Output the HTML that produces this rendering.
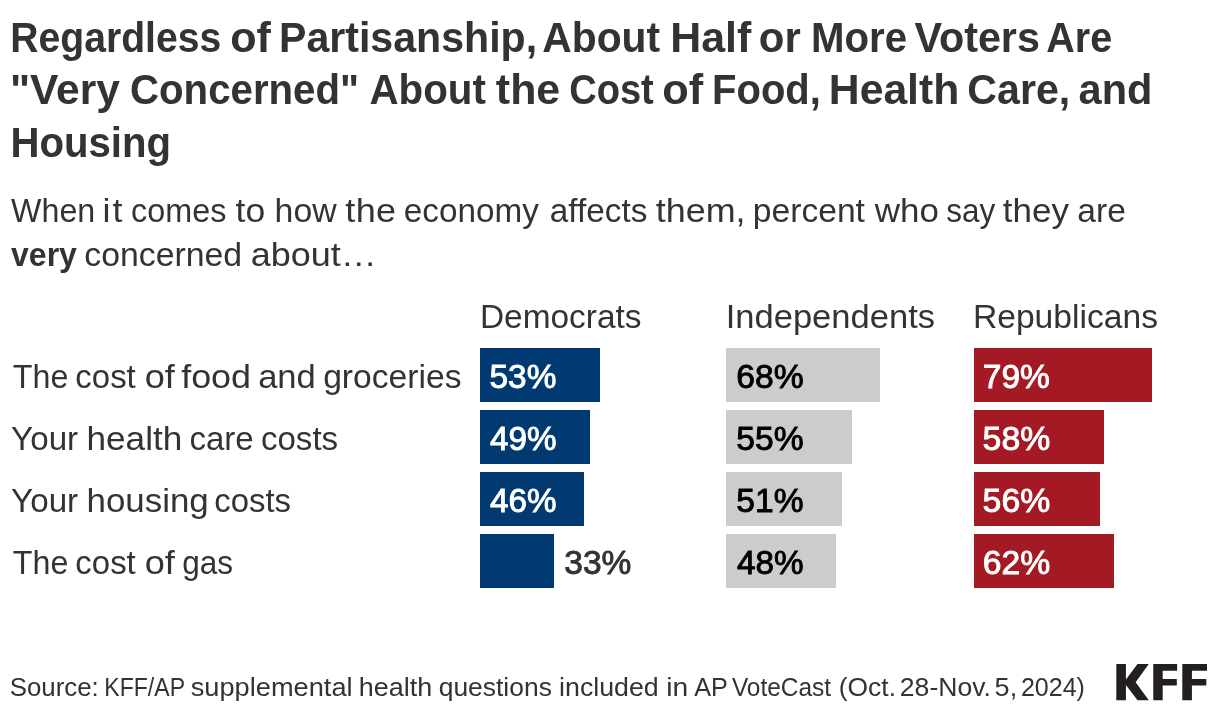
<!DOCTYPE html>
<html><head><meta charset="utf-8"><title>KFF chart</title>
<style>
html,body{margin:0;padding:0;background:#fff;}
body{width:1220px;height:714px;position:relative;overflow:hidden;font-family:"Liberation Sans",sans-serif;}
#txt{position:absolute;left:0;top:0;width:1220px;height:714px;will-change:transform;}
.t{position:absolute;left:0;white-space:nowrap;line-height:1;transform-origin:0 0;}
.b{position:absolute;height:54px;}
</style></head><body>
<div class="b" style="left:480px;top:348px;width:120px;background:#003a70"></div>
<div class="b" style="left:480px;top:410px;width:110px;background:#003a70"></div>
<div class="b" style="left:480px;top:472px;width:104px;background:#003a70"></div>
<div class="b" style="left:480px;top:534px;width:74px;background:#003a70"></div>
<div class="b" style="left:726px;top:348px;width:154px;background:#cccccc"></div>
<div class="b" style="left:726px;top:410px;width:126px;background:#cccccc"></div>
<div class="b" style="left:726px;top:472px;width:116px;background:#cccccc"></div>
<div class="b" style="left:726px;top:534px;width:110px;background:#cccccc"></div>
<div class="b" style="left:974px;top:348px;width:178px;background:#a41a24"></div>
<div class="b" style="left:974px;top:410px;width:130px;background:#a41a24"></div>
<div class="b" style="left:974px;top:472px;width:126px;background:#a41a24"></div>
<div class="b" style="left:974px;top:534px;width:140px;background:#a41a24"></div>
<div id="txt">
<div class="t" id="t1_0" style="top:17.00px;font-size:42px;font-weight:700;color:#333;transform:translateX(10.24px) scaleX(0.9321)">Regardless</div>
<div class="t" id="t1_1" style="top:17.00px;font-size:42px;font-weight:700;color:#333;transform:translateX(230.29px) scaleX(1.0261)">of</div>
<div class="t" id="t1_2" style="top:17.00px;font-size:42px;font-weight:700;color:#333;transform:translateX(279.00px) scaleX(0.9786)">Partisanship,</div>
<div class="t" id="t1_3" style="top:17.00px;font-size:42px;font-weight:700;color:#333;transform:translateX(542.29px) scaleX(0.9715)">About</div>
<div class="t" id="t1_4" style="top:17.00px;font-size:42px;font-weight:700;color:#333;transform:translateX(670.25px) scaleX(1.0206)">Half</div>
<div class="t" id="t1_5" style="top:17.00px;font-size:42px;font-weight:700;color:#333;transform:translateX(758.86px) scaleX(0.9971)">or</div>
<div class="t" id="t1_6" style="top:17.00px;font-size:42px;font-weight:700;color:#333;transform:translateX(810.95px) scaleX(0.9574)">More</div>
<div class="t" id="t1_7" style="top:17.00px;font-size:42px;font-weight:700;color:#333;transform:translateX(914.44px) scaleX(0.9831)">Voters</div>
<div class="t" id="t1_8" style="top:17.00px;font-size:42px;font-weight:700;color:#333;transform:translateX(1046.26px) scaleX(0.9414)">Are</div>
<div class="t" id="t2_0" style="top:69.00px;font-size:42px;font-weight:700;color:#333;transform:translateX(9.96px) scaleX(1.0119)">&quot;Very</div>
<div class="t" id="t2_1" style="top:69.00px;font-size:42px;font-weight:700;color:#333;transform:translateX(130.00px) scaleX(0.9574)">Concerned&quot;</div>
<div class="t" id="t2_2" style="top:69.00px;font-size:42px;font-weight:700;color:#333;transform:translateX(369.41px) scaleX(0.9604)">About</div>
<div class="t" id="t2_3" style="top:69.00px;font-size:42px;font-weight:700;color:#333;transform:translateX(495.85px) scaleX(1.0217)">the</div>
<div class="t" id="t2_4" style="top:69.00px;font-size:42px;font-weight:700;color:#333;transform:translateX(569.21px) scaleX(0.9062)">Cost</div>
<div class="t" id="t2_5" style="top:69.00px;font-size:42px;font-weight:700;color:#333;transform:translateX(662.35px) scaleX(1.0319)">of</div>
<div class="t" id="t2_6" style="top:69.00px;font-size:42px;font-weight:700;color:#333;transform:translateX(712.02px) scaleX(0.9523)">Food,</div>
<div class="t" id="t2_7" style="top:69.00px;font-size:42px;font-weight:700;color:#333;transform:translateX(828.81px) scaleX(1.0164)">Health</div>
<div class="t" id="t2_8" style="top:69.00px;font-size:42px;font-weight:700;color:#333;transform:translateX(967.34px) scaleX(0.9797)">Care,</div>
<div class="t" id="t2_9" style="top:69.00px;font-size:42px;font-weight:700;color:#333;transform:translateX(1078.61px) scaleX(0.9893)">and</div>
<div class="t" id="t3_0" style="top:122.00px;font-size:42px;font-weight:700;color:#333;transform:translateX(10.45px) scaleX(0.9558)">Housing</div>
<div class="t" id="s1_0" style="top:193.00px;font-size:34px;font-weight:400;color:#333;transform:translateX(11.12px) scaleX(0.9475)">When</div>
<div class="t" id="s1_1" style="top:193.00px;font-size:34px;font-weight:400;color:#333;letter-spacing:1.93px;transform:translateX(102.55px) scaleX(1.0542)">it</div>
<div class="t" id="s1_2" style="top:193.00px;font-size:34px;font-weight:400;color:#333;transform:translateX(131.03px) scaleX(0.9516)">comes</div>
<div class="t" id="s1_3" style="top:193.00px;font-size:34px;font-weight:400;color:#333;transform:translateX(235.54px) scaleX(1.0448)">to</div>
<div class="t" id="s1_4" style="top:193.00px;font-size:34px;font-weight:400;color:#333;transform:translateX(274.56px) scaleX(0.9956)">how</div>
<div class="t" id="s1_5" style="top:193.00px;font-size:34px;font-weight:400;color:#333;letter-spacing:0.31px;transform:translateX(345.33px) scaleX(1.0607)">the</div>
<div class="t" id="s1_6" style="top:193.00px;font-size:34px;font-weight:400;color:#333;transform:translateX(403.82px) scaleX(0.9785)">economy</div>
<div class="t" id="s1_7" style="top:193.00px;font-size:34px;font-weight:400;color:#333;transform:translateX(549.84px) scaleX(0.9796)">affects</div>
<div class="t" id="s1_8" style="top:193.00px;font-size:34px;font-weight:400;color:#333;transform:translateX(655.79px) scaleX(1.0559)">them,</div>
<div class="t" id="s1_9" style="top:193.00px;font-size:34px;font-weight:400;color:#333;transform:translateX(752.78px) scaleX(0.9890)">percent</div>
<div class="t" id="s1_10" style="top:193.00px;font-size:34px;font-weight:400;color:#333;transform:translateX(874.79px) scaleX(1.0286)">who</div>
<div class="t" id="s1_11" style="top:193.00px;font-size:34px;font-weight:400;color:#333;transform:translateX(946.26px) scaleX(0.9244)">say</div>
<div class="t" id="s1_12" style="top:193.00px;font-size:34px;font-weight:400;color:#333;transform:translateX(1002.84px) scaleX(1.0288)">they</div>
<div class="t" id="s1_13" style="top:193.00px;font-size:34px;font-weight:400;color:#333;transform:translateX(1077.31px) scaleX(0.9876)">are</div>
<div class="t" id="s2_0" style="top:237.00px;font-size:34px;font-weight:700;color:#333;transform:translateX(11.09px) scaleX(0.9400)">very</div>
<div class="t" id="s2_1" style="top:237.00px;font-size:34px;font-weight:400;color:#333;transform:translateX(84.27px) scaleX(0.9939)">concerned</div>
<div class="t" id="s2_2" style="top:237.00px;font-size:34px;font-weight:400;color:#333;transform:translateX(250.74px) scaleX(1.0589)">about…</div>
<div class="t" id="h1_0" style="top:299.00px;font-size:34px;font-weight:400;color:#333;transform:translateX(479.96px) scaleX(0.9828)">Democrats</div>
<div class="t" id="h2_0" style="top:299.00px;font-size:34px;font-weight:400;color:#333;transform:translateX(725.73px) scaleX(1.0154)">Independents</div>
<div class="t" id="h3_0" style="top:299.00px;font-size:34px;font-weight:400;color:#333;transform:translateX(972.91px) scaleX(0.9894)">Republicans</div>
<div class="t" id="r1_0" style="top:359.00px;font-size:34px;font-weight:400;color:#333;transform:translateX(12.82px) scaleX(0.9475)">The</div>
<div class="t" id="r1_1" style="top:359.00px;font-size:34px;font-weight:400;color:#333;transform:translateX(75.37px) scaleX(0.9680)">cost</div>
<div class="t" id="r1_2" style="top:359.00px;font-size:34px;font-weight:400;color:#333;letter-spacing:0.08px;transform:translateX(144.65px) scaleX(1.0643)">of</div>
<div class="t" id="r1_3" style="top:359.00px;font-size:34px;font-weight:400;color:#333;transform:translateX(181.19px) scaleX(1.0556)">food</div>
<div class="t" id="r1_4" style="top:359.00px;font-size:34px;font-weight:400;color:#333;transform:translateX(258.14px) scaleX(1.0166)">and</div>
<div class="t" id="r1_5" style="top:359.00px;font-size:34px;font-weight:400;color:#333;transform:translateX(323.14px) scaleX(0.9895)">groceries</div>
<div class="t" id="r2_0" style="top:421.00px;font-size:34px;font-weight:400;color:#333;transform:translateX(11.10px) scaleX(0.9759)">Your</div>
<div class="t" id="r2_1" style="top:421.00px;font-size:34px;font-weight:400;color:#333;transform:translateX(86.47px) scaleX(1.0340)">health</div>
<div class="t" id="r2_2" style="top:421.00px;font-size:34px;font-weight:400;color:#333;transform:translateX(189.38px) scaleX(0.9703)">care</div>
<div class="t" id="r2_3" style="top:421.00px;font-size:34px;font-weight:400;color:#333;transform:translateX(260.93px) scaleX(0.9729)">costs</div>
<div class="t" id="r3_0" style="top:483.00px;font-size:34px;font-weight:400;color:#333;transform:translateX(11.10px) scaleX(0.9759)">Your</div>
<div class="t" id="r3_1" style="top:483.00px;font-size:34px;font-weight:400;color:#333;transform:translateX(86.54px) scaleX(1.0262)">housing</div>
<div class="t" id="r3_2" style="top:483.00px;font-size:34px;font-weight:400;color:#333;transform:translateX(214.18px) scaleX(0.9682)">costs</div>
<div class="t" id="r4_0" style="top:545.00px;font-size:34px;font-weight:400;color:#333;transform:translateX(12.82px) scaleX(0.9475)">The</div>
<div class="t" id="r4_1" style="top:545.00px;font-size:34px;font-weight:400;color:#333;transform:translateX(75.37px) scaleX(0.9680)">cost</div>
<div class="t" id="r4_2" style="top:545.00px;font-size:34px;font-weight:400;color:#333;letter-spacing:0.08px;transform:translateX(144.65px) scaleX(1.0643)">of</div>
<div class="t" id="r4_3" style="top:545.00px;font-size:34px;font-weight:400;color:#333;transform:translateX(182.25px) scaleX(0.9281)">gas</div>
<div class="t" id="f1_0" style="top:674.40px;font-size:26.6px;font-weight:400;color:#333;transform:translateX(9.64px) scaleX(0.9721)">Source:</div>
<div class="t" id="f1_1" style="top:674.40px;font-size:26.6px;font-weight:400;color:#333;transform:translateX(104.36px) scaleX(0.8663)">KFF/AP</div>
<div class="t" id="f1_2" style="top:674.40px;font-size:26.6px;font-weight:400;color:#333;transform:translateX(190.76px) scaleX(1.0229)">supplemental</div>
<div class="t" id="f1_3" style="top:674.40px;font-size:26.6px;font-weight:400;color:#333;transform:translateX(358.77px) scaleX(1.0128)">health</div>
<div class="t" id="f1_4" style="top:674.40px;font-size:26.6px;font-weight:400;color:#333;transform:translateX(438.70px) scaleX(0.9939)">questions</div>
<div class="t" id="f1_5" style="top:674.40px;font-size:26.6px;font-weight:400;color:#333;transform:translateX(559.09px) scaleX(1.0055)">included</div>
<div class="t" id="f1_6" style="top:674.40px;font-size:26.6px;font-weight:400;color:#333;transform:translateX(666.18px) scaleX(1.0601)">in</div>
<div class="t" id="f1_7" style="top:674.40px;font-size:26.6px;font-weight:400;color:#333;transform:translateX(694.29px) scaleX(0.9473)">AP</div>
<div class="t" id="f1_8" style="top:674.40px;font-size:26.6px;font-weight:400;color:#333;transform:translateX(731.91px) scaleX(0.9195)">VoteCast</div>
<div class="t" id="f1_9" style="top:674.40px;font-size:26.6px;font-weight:400;color:#333;transform:translateX(838.79px) scaleX(0.9924)">(Oct.</div>
<div class="t" id="f1_10" style="top:674.40px;font-size:26.6px;font-weight:400;color:#333;transform:translateX(899.84px) scaleX(0.9988)">28-Nov.</div>
<div class="t" id="f1_11" style="top:674.40px;font-size:26.6px;font-weight:400;color:#333;transform:translateX(994.57px) scaleX(1.0190)">5,</div>
<div class="t" id="f1_12" style="top:674.40px;font-size:26.6px;font-weight:400;color:#333;transform:translateX(1020.89px) scaleX(0.9418)">2024)</div>
<div class="t" id="l00" style="top:359.80px;font-size:33.2px;font-weight:400;color:#fff;-webkit-text-stroke:0.9px #fff;transform:translateX(489.54px) scaleX(1.0069)">53%</div>
<div class="t" id="l01" style="top:421.80px;font-size:33.2px;font-weight:400;color:#fff;-webkit-text-stroke:0.9px #fff;transform:translateX(490.06px) scaleX(1.0011)">49%</div>
<div class="t" id="l02" style="top:483.80px;font-size:33.2px;font-weight:400;color:#fff;-webkit-text-stroke:0.9px #fff;transform:translateX(490.06px) scaleX(1.0011)">46%</div>
<div class="t" id="l03" style="top:545.80px;font-size:33.2px;font-weight:400;color:#333;-webkit-text-stroke:0.9px #333;transform:translateX(564.34px) scaleX(1.0099)">33%</div>
<div class="t" id="l10" style="top:359.80px;font-size:33.2px;font-weight:400;color:#000;-webkit-text-stroke:0.9px #000;transform:translateX(736.25px) scaleX(1.0138)">68%</div>
<div class="t" id="l11" style="top:421.80px;font-size:33.2px;font-weight:400;color:#000;-webkit-text-stroke:0.9px #000;transform:translateX(736.29px) scaleX(1.0115)">55%</div>
<div class="t" id="l12" style="top:483.80px;font-size:33.2px;font-weight:400;color:#000;-webkit-text-stroke:0.9px #000;transform:translateX(736.29px) scaleX(1.0115)">51%</div>
<div class="t" id="l13" style="top:545.80px;font-size:33.2px;font-weight:400;color:#000;-webkit-text-stroke:0.9px #000;transform:translateX(737.07px) scaleX(1.0016)">48%</div>
<div class="t" id="l20" style="top:359.80px;font-size:33.2px;font-weight:400;color:#fff;-webkit-text-stroke:0.9px #fff;transform:translateX(982.75px) scaleX(1.0093)">79%</div>
<div class="t" id="l21" style="top:421.80px;font-size:33.2px;font-weight:400;color:#fff;-webkit-text-stroke:0.9px #fff;transform:translateX(982.61px) scaleX(1.0175)">58%</div>
<div class="t" id="l22" style="top:483.80px;font-size:33.2px;font-weight:400;color:#fff;-webkit-text-stroke:0.9px #fff;transform:translateX(982.61px) scaleX(1.0175)">56%</div>
<div class="t" id="l23" style="top:545.80px;font-size:33.2px;font-weight:400;color:#fff;-webkit-text-stroke:0.9px #fff;transform:translateX(982.65px) scaleX(1.0169)">62%</div>
</div>
<svg id="logo" style="position:absolute;left:1105px;top:654px" width="115" height="56" viewBox="0 0 1220 594"><g fill="#231f20"><polygon points="120,105 222,105 222,270 345,105 465,105 325,300 465,490 345,490 222,330 222,490 120,490"/><polygon points="512,105 765,105 765,177 612,177 612,265 762,265 762,335 612,335 612,490 512,490"/><polygon points="820,105 1082,105 1082,177 922,177 922,265 1075,265 1075,335 922,335 922,490 820,490"/></g></svg>
</body></html>
